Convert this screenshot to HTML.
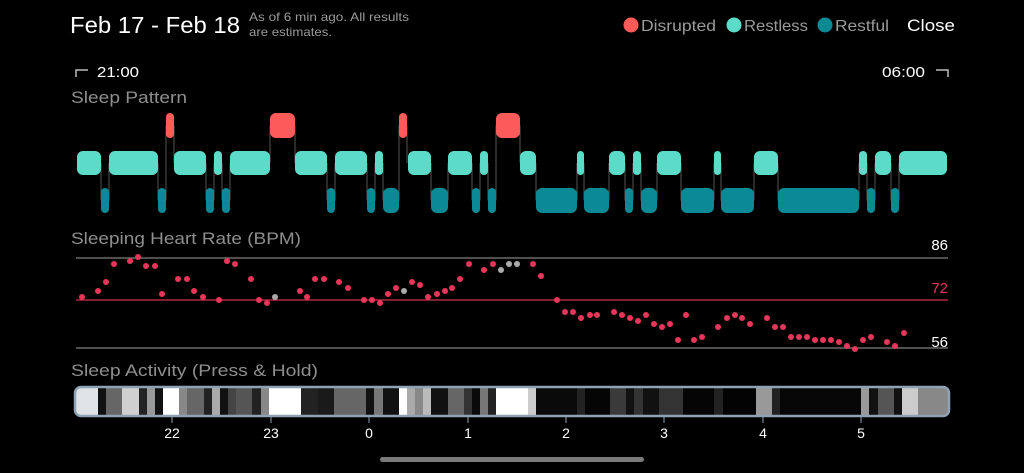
<!DOCTYPE html>
<html><head><meta charset="utf-8"><style>
html,body{margin:0;padding:0;background:#000;width:1024px;height:473px;overflow:hidden}
svg{display:block}
text{font-family:"Liberation Sans",sans-serif}
</style></head><body>
<svg id="s" width="1024" height="473" viewBox="0 0 1024 473" xmlns="http://www.w3.org/2000/svg">
<text x="70" y="33" font-size="23" fill="#fff" textLength="170" lengthAdjust="spacingAndGlyphs">Feb 17 - Feb 18</text>
<text x="249" y="21" font-size="12" fill="#9a9a9a" textLength="160" lengthAdjust="spacingAndGlyphs">As of 6 min ago. All results</text>
<text x="249" y="36" font-size="12" fill="#9a9a9a" textLength="83" lengthAdjust="spacingAndGlyphs">are estimates.</text>
<circle cx="631" cy="25" r="7.5" fill="#fd5a5a"/>
<text x="641" y="31" font-size="16" fill="#9a9a9a" textLength="75" lengthAdjust="spacingAndGlyphs">Disrupted</text>
<circle cx="734" cy="25" r="7.5" fill="#5cdcc8"/>
<text x="744" y="31" font-size="16" fill="#9a9a9a" textLength="64" lengthAdjust="spacingAndGlyphs">Restless</text>
<circle cx="825" cy="25" r="7.5" fill="#0b8a96"/>
<text x="835" y="31" font-size="16" fill="#9a9a9a" textLength="54" lengthAdjust="spacingAndGlyphs">Restful</text>
<text x="907" y="31" font-size="17" fill="#fff" textLength="48" lengthAdjust="spacingAndGlyphs">Close</text>
<path d="M76 77 V70 H88" stroke="#bbb" stroke-width="1.5" fill="none"/>
<text x="97" y="77" font-size="15" fill="#fff" textLength="42" lengthAdjust="spacingAndGlyphs">21:00</text>
<text x="882" y="77" font-size="15" fill="#fff" textLength="43" lengthAdjust="spacingAndGlyphs">06:00</text>
<path d="M936 70 H948 V77" stroke="#bbb" stroke-width="1.5" fill="none"/>
<text x="71" y="103" font-size="17" fill="#8e8e8e" textLength="116" lengthAdjust="spacingAndGlyphs">Sleep Pattern</text>
<text x="71" y="244" font-size="17" fill="#8e8e8e" textLength="230" lengthAdjust="spacingAndGlyphs">Sleeping Heart Rate (BPM)</text>
<text x="71" y="376" font-size="17" fill="#8e8e8e" textLength="247" lengthAdjust="spacingAndGlyphs">Sleep Activity (Press &amp; Hold)</text>
<line x1="76" y1="258" x2="948" y2="258" stroke="#6a6a6a" stroke-width="1.5"/>
<line x1="76" y1="300" x2="948" y2="300" stroke="#b0283f" stroke-width="1.5"/>
<line x1="76" y1="348" x2="948" y2="348" stroke="#6a6a6a" stroke-width="1.5"/>
<text x="948" y="250" font-size="15" fill="#fff" text-anchor="end">86</text>
<text x="948" y="293" font-size="15" fill="#e8365a" text-anchor="end">72</text>
<text x="948" y="347" font-size="15" fill="#fff" text-anchor="end">56</text>
<g id="pat"></g><g id="dots"></g><g id="act"></g>
<rect x="75" y="387" width="874" height="29" rx="6" fill="none" stroke="#8fa2b3" stroke-width="2.5"/>
<g font-size="14" fill="#fff" text-anchor="middle">
<text x="172" y="438">22</text><text x="271" y="438">23</text><text x="369" y="438">0</text><text x="468" y="438">1</text>
<text x="566" y="438">2</text><text x="664" y="438">3</text><text x="763" y="438">4</text><text x="861" y="438">5</text>
</g>
<rect x="380" y="457" width="264" height="5" rx="2.5" fill="#7a7a7a"/>
</svg>
<script>
var NS="http://www.w3.org/2000/svg";
function el(p,t,a){var e=document.createElementNS(NS,t);for(var k in a)e.setAttribute(k,a[k]);p.appendChild(e);return e;}
var seq="R77-101 F101-109 R109-158 F158-166 D166-174 R174-206 F206-214 R214-222 F222-230 R230-270 D270-295 R295-327 F327-335 R335-367 F367-375 R375-383 F383-399 D399-407 R408-431 F431-448 R448-472 F472-480 R480-488 F488-496 D496-520 R520-536 F536-577 R577-584 F584-609 R609-625 F625-633 R633-641 F641-657 R657-681 F681-714 R714-721 F721-754 R754-778 F778-859 R859-867 F867-875 R875-891 F891-899 R899-947".split(" ");
var rows={D:[113,138,"#fd5a5a"],R:[151,175,"#5cdcc8"],F:[188,213,"#0b8a96"]};
var pat=document.getElementById("pat");
var b=seq.map(function(s){var r=s[0],xy=s.slice(1).split("-");return [r,+xy[0],+xy[1]];});
for(var i=0;i<b.length-1;i++){var a=rows[b[i][0]],c=rows[b[i+1][0]];var x=b[i][2];
el(pat,"line",{x1:x,x2:x,y1:(a[0]+a[1])/2,y2:(c[0]+c[1])/2,stroke:"#555","stroke-width":1});}
b.forEach(function(q){var r=rows[q[0]],w=q[2]-q[1];el(pat,"rect",{x:q[1],y:r[0],width:w,height:r[1]-r[0],rx:Math.min(6,w/2),fill:r[2]});});
var d=[[82,297],[98,291],[106,282],[114,264],[130,261],[138,257],[146,266],[155,266],[162,294],[178,279],[187,279],[194,291],[203,297],[219,300],[227,261],[235,264],[251,279],[259,300],[267,303],[275,297,1],[300,291],[307,297],[315,279],[324,279],[339,282],[348,288],[364,300],[372,300],[380,303],[388,294],[396,288],[404,291,1],[412,282],[420,285],[428,297],[437,294],[445,291],[452,288],[460,279],[469,264],[484,270],[493,264],[501,270,1],[509,264,1],[517,264,1],[533,264],[541,276],[557,300],[565,312],[573,312],[581,318],[590,315],[597,315],[614,312],[622,315],[630,318],[638,321],[646,315],[654,324],[662,327],[670,324],[678,340],[686,315],[694,340],[702,337],[718,327],[727,318],[735,315],[742,318],[750,324],[767,318],[775,327],[783,327],[791,337],[799,337],[807,337],[815,340],[823,340],[831,340],[839,342],[847,346],[855,349],[863,340],[871,337],[887,342],[895,346],[904,333]];
var dg=document.getElementById("dots");
d.forEach(function(p){el(dg,"circle",{cx:p[0],cy:p[1],r:3,fill:p[2]?"#aaa":"#e8365a"});});
var st=[[76,98,"#e0e4e6"],[98,106,"#111"],[106,122,"#666"],[122,139,"#d0d0d0"],[139,147,"#222"],[147,155,"#999"],[155,163,"#111"],[163,179,"#fff"],[179,187,"#888"],[187,204,"#666"],[204,212,"#222"],[212,220,"#aaa"],[220,228,"#111"],[228,236,"#444"],[236,252,"#555"],[252,261,"#222"],[261,269,"#888"],[269,301,"#fff"],[301,318,"#222"],[318,334,"#1a1a1a"],[334,366,"#666"],[366,374,"#111"],[374,383,"#777"],[383,399,"#111"],[399,407,"#fff"],[407,415,"#aaa"],[415,423,"#888"],[423,431,"#bbb"],[431,448,"#111"],[448,464,"#666"],[464,472,"#333"],[472,480,"#0a0a0a"],[480,488,"#777"],[488,496,"#222"],[496,528,"#fff"],[528,536,"#ccc"],[536,577,"#0a0a0a"],[577,585,"#222"],[585,610,"#050505"],[610,626,"#3a3a3a"],[626,634,"#111"],[634,643,"#333"],[643,659,"#111"],[659,683,"#333"],[683,714,"#050505"],[714,723,"#222"],[723,756,"#030303"],[756,772,"#999"],[772,780,"#222"],[780,861,"#060606"],[861,869,"#999"],[869,878,"#111"],[878,894,"#555"],[894,902,"#111"],[902,918,"#ccc"],[918,948,"#888"]];
var ag=document.getElementById("act");
st.forEach(function(s){el(ag,"rect",{x:s[0],y:388,width:s[1]-s[0],height:27,fill:s[2]});});
[172,271,369,468,566,664,763,861].forEach(function(x){el(ag,"line",{x1:x,x2:x,y1:417,y2:423,stroke:"#8fa2b3","stroke-width":1});});
</script>
</body></html>
